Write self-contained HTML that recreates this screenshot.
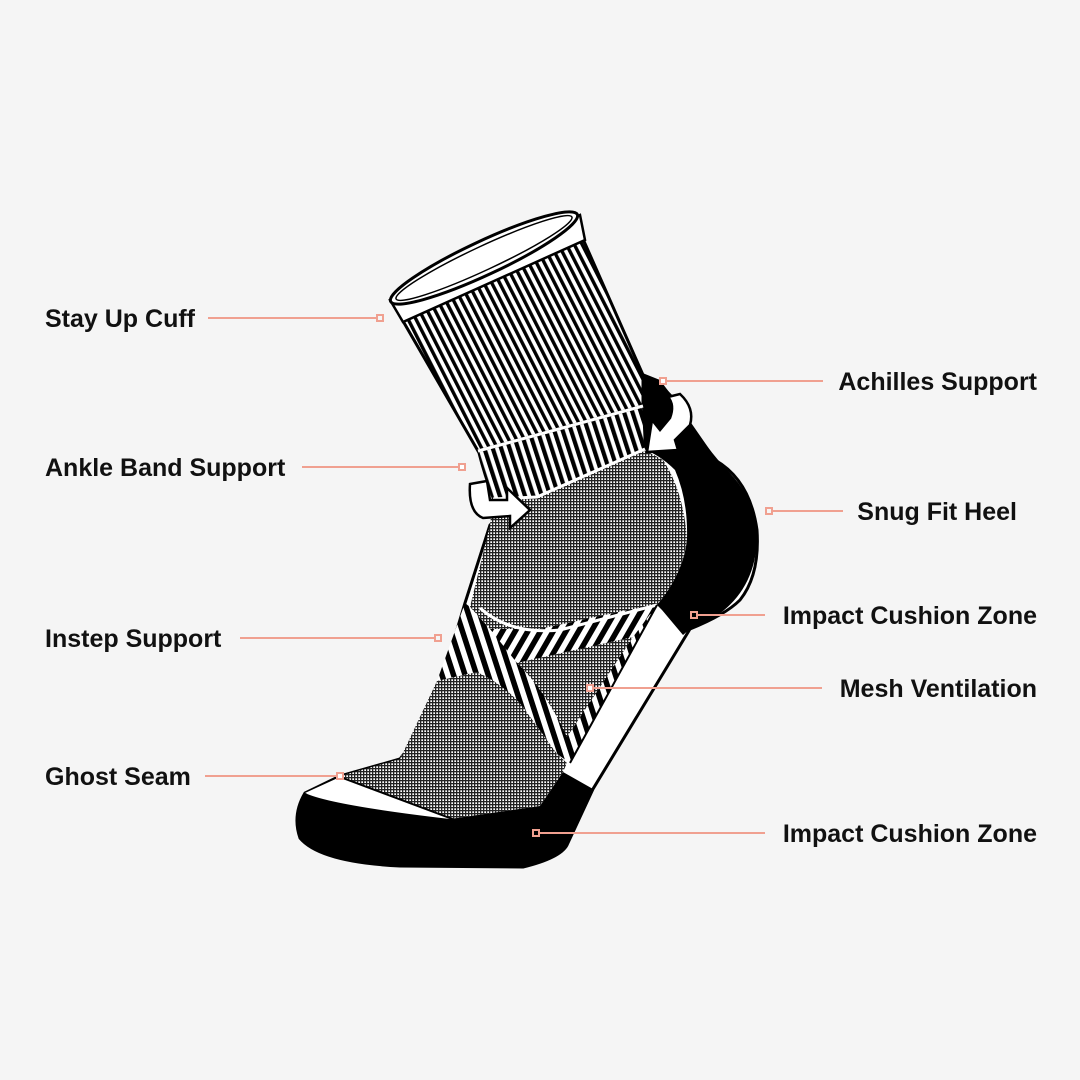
<!DOCTYPE html>
<html><head><meta charset="utf-8"><style>
html,body{margin:0;padding:0;background:#f5f5f5;}
svg{display:block;}
text{font-family:"Liberation Sans",sans-serif;font-weight:bold;font-size:25px;fill:#111;}
</style></head><body>
<svg width="1080" height="1080" viewBox="0 0 1080 1080" xmlns="http://www.w3.org/2000/svg">
<defs>
<pattern id="cuff" width="7" height="20" patternUnits="userSpaceOnUse" patternTransform="rotate(-27)">
<rect width="7" height="20" fill="#fff"/><rect width="3.4" height="20" fill="#000"/></pattern>
<pattern id="band" width="8" height="20" patternUnits="userSpaceOnUse" patternTransform="rotate(-18)">
<rect width="8" height="20" fill="#fff"/><rect width="4.2" height="20" fill="#000"/></pattern>
<pattern id="mesh" width="3" height="3" patternUnits="userSpaceOnUse">
<rect width="3" height="3" fill="#fff"/><rect width="3" height="1.3" fill="#222"/><rect width="1.3" height="3" fill="#222"/></pattern>
<pattern id="instep" width="11" height="30" patternUnits="userSpaceOnUse" patternTransform="rotate(-18)">
<rect width="11" height="30" fill="#fff"/><rect width="5.5" height="30" fill="#000"/></pattern>
<pattern id="instep2" width="11" height="30" patternUnits="userSpaceOnUse" patternTransform="rotate(30)">
<rect width="11" height="30" fill="#fff"/><rect width="5.5" height="30" fill="#000"/></pattern>
</defs>

<!-- foot base white with outline -->
<path d="M490,525 L465,603 L430,720 L400,759 L340,776 L305,793 Q292,815 300,838 Q320,862 400,866 L523,867 Q560,858 567,845 L593,789 L690,629 Q725,615 740,600 Q760,575 757,530 Q750,480 715,460 L670,395 L643,375 Z" fill="#fff" stroke="#000" stroke-width="3"/>

<!-- heel black -->
<path d="M660,382 L672,395 Q700,440 725,468 Q758,500 757,540 Q755,585 723,611 Q705,625 690,629 L683,635 L662,610 L657,605 Q685,570 687,538 Q688,500 675,470 Q660,455 643,449 L643,375 Z" fill="#000"/>

<!-- upper mesh -->
<path d="M493,499 L537,497 L643,449 L663,460 Q683,490 687,538 Q683,575 657,605 L623,611 L540,629 L490,629 L470,607 L490,525 Z" fill="url(#mesh)"/>

<!-- stripes region -->
<path d="M470,607 L490,629 L540,629 L623,611 L657,605 L570,763 L557,754 L523,707 L477,672 L437,681 L465,603 Z" fill="url(#instep)"/>
<path d="M490,629 L540,629 L623,611 L657,605 L633,637 L517,663 Z" fill="url(#instep2)"/>
<path d="M480,608 Q510,635 560,630 L657,605" fill="none" stroke="#fff" stroke-width="3"/>
<!-- mesh ventilation triangle -->
<path d="M517,663 L633,637 L567,737 Q545,690 517,663 Z" fill="url(#mesh)"/>
<!-- lower mesh -->
<path d="M437,681 L477,672 Q505,685 523,707 L557,754 L567,763 L563,772 L540,806 L450,819 L350,780 L340,776 L400,759 Z" fill="url(#mesh)"/>
<!-- white sole strip line -->
<path d="M657,605 L570,763" stroke="#000" stroke-width="2"/>

<!-- toe white -->
<path d="M305,793 L340,777 L352,781 L455,820 L470,824 Q400,815 320,798 Z" fill="#fff"/>
<path d="M340,777 L455,820" stroke="#000" stroke-width="2"/>
<!-- toe black -->
<path d="M305,793 Q330,805 450,819 L540,806 L563,772 L593,789 L567,845 Q555,862 523,867 L400,866 Q320,862 300,838 Q292,815 305,793 Z" fill="#000"/>

<!-- black achilles -->
<path d="M640,372 L660,380 L672,396 L660,420 L643,449 Z" fill="#000"/>
<!-- ankle band -->
<path d="M478,451 L643,406 L645,449 L537,497 L493,499 Q484,475 478,451 Z" fill="url(#band)" stroke="#000" stroke-width="2"/>
<path d="M493,499 L537,497 L645,449" fill="none" stroke="#fff" stroke-width="3"/>
<!-- cuff -->
<path d="M403,321 L583,239 L643,375 L643,406 L478,451 Z" fill="url(#cuff)" stroke="#000" stroke-width="3"/>
<path d="M478,451 L643,406" stroke="#fff" stroke-width="3"/>
<path d="M390,300 L580,215 L585,240 L403,322 Z" fill="#fff" stroke="#000" stroke-width="2.5"/>
<ellipse cx="484" cy="258" rx="103" ry="17" transform="rotate(-25 484 258)" fill="#fff" stroke="#000" stroke-width="3"/>
<ellipse cx="484" cy="258" rx="97" ry="12" transform="rotate(-25 484 258)" fill="none" stroke="#000" stroke-width="1.5"/>

<!-- arrows -->
<path d="M470,484 L487,481 L490,500 L507,500 L507,488 L530,510 L510,528 L510,516 L483,518 Q468,512 470,484 Z" fill="#fff" stroke="#000" stroke-width="2.5"/>
<path d="M668,397 L680,394 Q695,408 690,425 L675,440 L678,450 L647,452 L652,420 L660,430 L670,418 Q675,405 668,397 Z" fill="#fff" stroke="#000" stroke-width="2.5"/>

<!-- connectors -->
<g stroke="#f0a090" stroke-width="2" fill="none">
<line x1="208" y1="318" x2="377" y2="318"/><rect x="377" y="315" width="6" height="6" fill="#f5f5f5"/>
<line x1="302" y1="467" x2="459" y2="467"/><rect x="459" y="464" width="6" height="6" fill="#fff"/>
<line x1="240" y1="638" x2="435" y2="638"/><rect x="435" y="635" width="6" height="6" fill="#f5f5f5"/>
<line x1="205" y1="776" x2="337" y2="776"/><rect x="337" y="773" width="6" height="6" fill="#fff"/>
<line x1="666" y1="381" x2="823" y2="381"/><rect x="660" y="378" width="6" height="6" fill="#fff"/>
<line x1="772" y1="511" x2="843" y2="511"/><rect x="766" y="508" width="6" height="6" fill="#f5f5f5"/>
<line x1="697" y1="615" x2="765" y2="615"/><rect x="691" y="612" width="6" height="6" fill="#000"/>
<line x1="593" y1="688" x2="822" y2="688"/><rect x="587" y="685" width="6" height="6" fill="#fff"/>
<line x1="539" y1="833" x2="765" y2="833"/><rect x="533" y="830" width="6" height="6" fill="#000"/>
</g>

<text x="45" y="327">Stay Up Cuff</text>
<text x="45" y="476">Ankle Band Support</text>
<text x="45" y="647">Instep Support</text>
<text x="45" y="785">Ghost Seam</text>
<text x="1037" y="390" text-anchor="end">Achilles Support</text>
<text x="1017" y="520" text-anchor="end">Snug Fit Heel</text>
<text x="1037" y="624" text-anchor="end">Impact Cushion Zone</text>
<text x="1037" y="697" text-anchor="end">Mesh Ventilation</text>
<text x="1037" y="842" text-anchor="end">Impact Cushion Zone</text>
</svg>
</body></html>
